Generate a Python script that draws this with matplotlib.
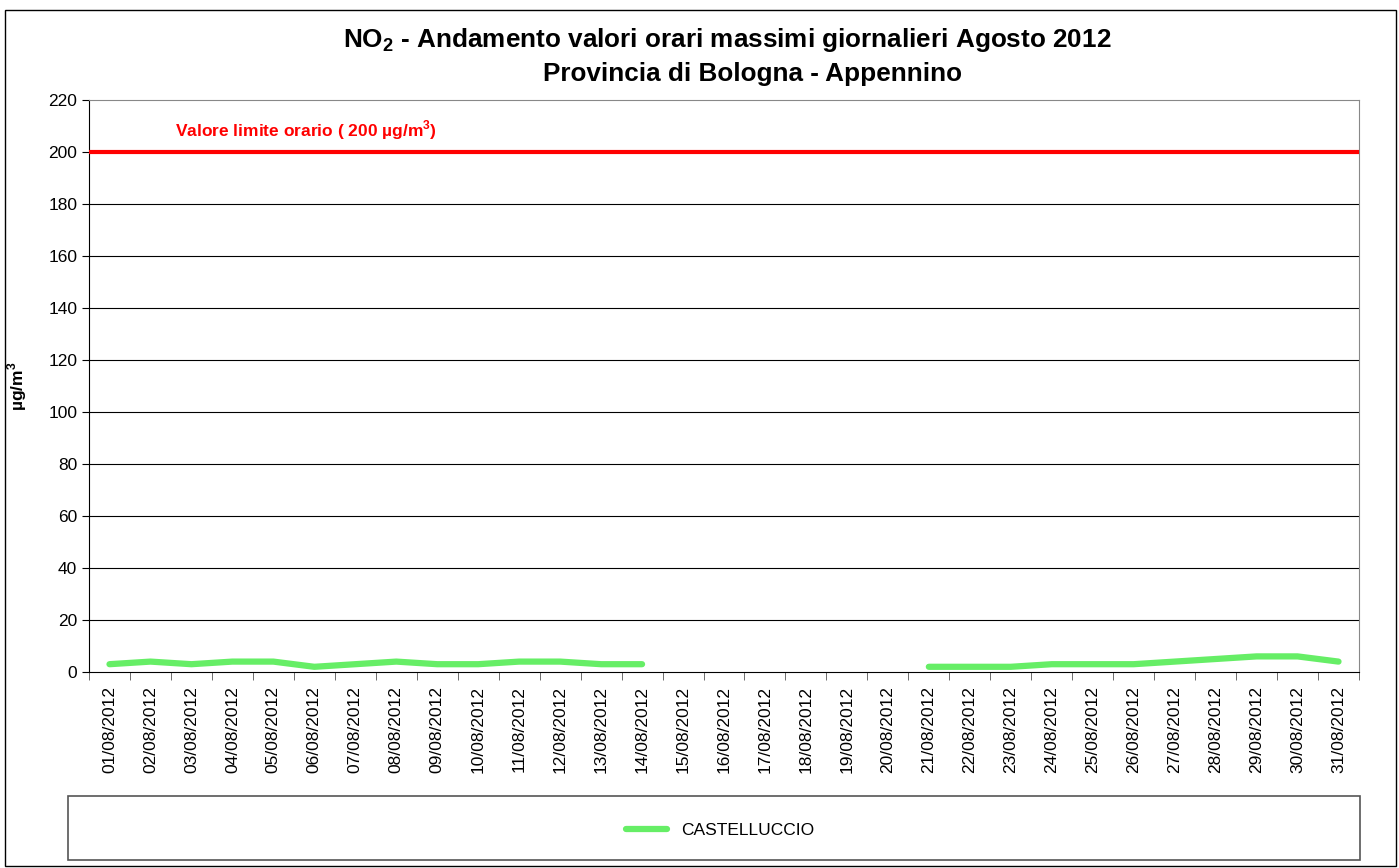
import numpy as np
import matplotlib.pyplot as plt
from matplotlib.patches import Rectangle

plt.rcParams['font.family'] = ['Liberation Sans', 'DejaVu Sans']
plt.rcParams['mathtext.fontset'] = 'custom'
plt.rcParams['mathtext.rm'] = 'Liberation Sans'
plt.rcParams['mathtext.bf'] = 'Liberation Sans:bold'

days = ['%02d/08/2012' % d for d in range(1, 32)]
castelluccio = [3, 4, 3, 4, 4, 2, 3, 4, 3, 3, 4, 4, 3, 3,
                np.nan, np.nan, np.nan, np.nan, np.nan, np.nan,
                2, 2, 2, 3, 3, 3, 4, 5, 6, 6, 4]
limit = 200
yticks = list(range(0, 221, 20))

fig = plt.figure(figsize=(13.99, 8.68), dpi=100)
ax = fig.add_axes([89 / 1399, 1 - 672 / 868, (1359 - 89) / 1399, (672 - 100) / 868])

x = np.arange(len(days))
ax.set_xlim(-0.5, len(days) - 0.5)
ax.set_ylim(0, 220)
ax.set_yticks(yticks)
ax.set_yticklabels([str(t) for t in yticks], fontsize=12.5)
for t in yticks[1:-1]:
    ax.axhline(t, color='black', lw=0.8, zorder=1)

ax.set_xticks(x)
ax.set_xticklabels(days, rotation=90, fontsize=12.5)
ax.set_xticks(np.arange(len(days) + 1) - 0.5, minor=True)
ax.tick_params(axis='x', which='major', length=0, pad=10)
ax.tick_params(axis='x', which='minor', length=6, color='#555555')
ax.tick_params(axis='y', length=5)

ax.axhline(limit, color='#ff0000', lw=3, zorder=3)
ax.text(1.6, 204, 'Valore limite orario ( 200 µg/m$^\\mathbf{3}$)', color='#ff0000',
        fontsize=12.5, fontweight='bold', va='bottom')

line, = ax.plot(x, castelluccio, color='#66ee66', lw=4.5, solid_capstyle='round',
                zorder=4, label='CASTELLUCCIO')

for s in ['top', 'right']:
    ax.spines[s].set_color('#888888')
ax.spines['left'].set_color('black')
ax.spines['bottom'].set_color('black')

ax.set_ylabel('µg/m$^\\mathbf{3}$', fontsize=12.5, fontweight='bold', labelpad=14)

fig.text(727 / 1399, 1 - 40 / 868,
         'NO$_\\mathbf{2}$ - Andamento valori orari massimi giornalieri Agosto 2012',
         ha='center', va='center', fontsize=18.8, fontweight='bold')
fig.text(752 / 1399, 1 - 74 / 868, 'Provincia di Bologna - Appennino',
         ha='center', va='center', fontsize=18.8, fontweight='bold')

# outer border and legend box
fig.patches.append(Rectangle((5 / 1399, 2 / 868), 1391 / 1399, 856 / 868, fill=False,
                             edgecolor='black', lw=1, transform=fig.transFigure))
fig.patches.append(Rectangle((68 / 1399, 1 - 860 / 868), 1292 / 1399, 64 / 868, fill=False,
                             edgecolor='#555555', lw=1.2, transform=fig.transFigure))
fig.legend(handles=[line], loc='center', bbox_to_anchor=(720 / 1399, 1 - 830 / 868),
           frameon=False, fontsize=12.5, handlelength=2.4)

fig.savefig('out.png', dpi=100)
